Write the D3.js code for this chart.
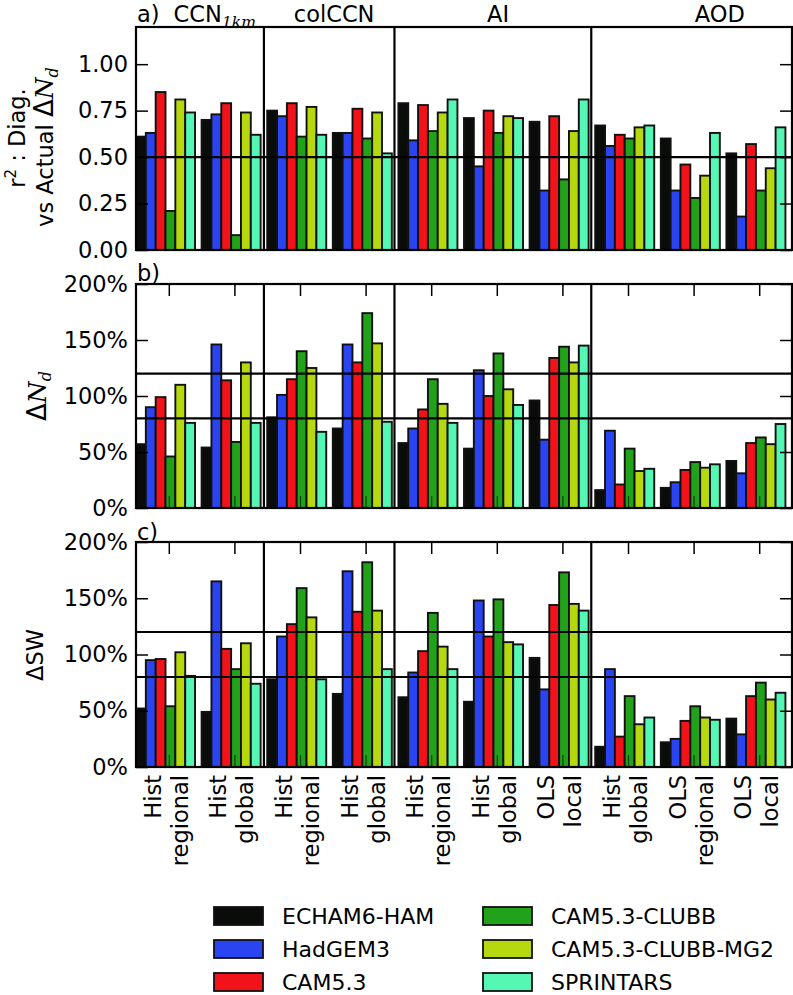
<!DOCTYPE html>
<html><head><meta charset="utf-8">
<script src="https://cdn.jsdelivr.net/npm/d3@7"></script>
<style>body{margin:0;background:#fff} text{font-family:'DejaVu Sans',sans-serif;fill:#000}</style>
</head><body><svg id="c" width="793" height="995"></svg>
<script>
const models = ["ECHAM6-HAM","HadGEM3","CAM5.3","CAM5.3-CLUBB","CAM5.3-CLUBB-MG2","SPRINTARS"];
const colors = ["#0a0c0a","#2b44f2","#f2121a","#22a11a","#b6d80e","#55f7b4"];
const groupLabels = [["Hist","regional"],["Hist","global"],["Hist","regional"],["Hist","global"],["Hist","regional"],["Hist","global"],["OLS","local"],["Hist","global"],["OLS","regional"],["OLS","local"]];
const metricTitles = ["CCN","colCCN","AI","AOD"];
const metricCenters = [1.2, 3.02, 5.52, 8.9];
const separators = [1.95, 3.94, 6.94];

// rows = models, columns = groups
const r2 = [
  [0.61,0.70,0.75,0.63,0.79,0.71,0.69,0.67,0.60,0.52],
  [0.63,0.73,0.72,0.63,0.59,0.45,0.32,0.56,0.32,0.18],
  [0.85,0.79,0.79,0.76,0.78,0.75,0.72,0.62,0.46,0.57],
  [0.21,0.08,0.61,0.60,0.64,0.63,0.38,0.60,0.28,0.32],
  [0.81,0.74,0.77,0.74,0.74,0.72,0.64,0.66,0.40,0.44],
  [0.74,0.62,0.62,0.52,0.81,0.71,0.81,0.67,0.63,0.66]
];
const dNd = [
  [57,54,81,71,58,53,96,16,18,42],
  [90,146,101,146,71,123,61,69,23,31],
  [99,114,115,130,88,100,134,21,34,58],
  [46,59,140,174,115,138,144,53,41,63],
  [110,130,125,147,93,106,130,33,36,57],
  [76,76,68,77,76,92,145,35,39,75]
];
const dSW = [
  [52,49,78,65,62,58,97,18,22,43],
  [95,165,116,174,84,148,69,87,25,29],
  [96,105,127,138,103,116,144,27,41,63],
  [54,87,159,182,137,149,173,63,54,75],
  [102,110,133,139,107,111,145,38,44,60],
  [81,74,78,87,87,109,139,44,42,66]
];
const r2Ticks = [0,0.25,0.5,0.75,1.0];
const pctTicks = [0,50,100,150,200];
const r2Ref = [0.5];
const pctRef = [80,120];

const svg = d3.select("#c");
const FS = 22.5;
const x = d3.scaleLinear().domain([0,10]).range([136,792]);
const bw = x(0.15)-x(0);
const groupIdx = d3.range(10);

const panels = [
  {data:r2, top:27, bottom:250, domain:[0,1.2], ticks:r2Ticks, fmt:d3.format(".2f"), refs:r2Ref, xticks:false, tag:"a)", tagY:22},
  {data:dNd, top:284, bottom:508, domain:[0,200], ticks:pctTicks, fmt:d=>d+"%", refs:pctRef, xticks:true, tag:"b)", tagY:281},
  {data:dSW, top:542, bottom:767, domain:[0,200], ticks:pctTicks, fmt:d=>d+"%", refs:pctRef, xticks:true, tag:"c)", tagY:540}
];

panels.forEach((p,pi)=>{
  const y = d3.scaleLinear().domain(p.domain).range([p.bottom,p.top]);
  const g = svg.append("g");
  p.data.forEach((row,j)=>{
    g.selectAll(null).data(row).join("rect")
      .attr("x",(d,i)=>x(i+j*0.15)).attr("width",bw)
      .attr("y",d=>y(d)).attr("height",d=>y(0)-y(d))
      .attr("fill",colors[j]).attr("stroke","#111").attr("stroke-width",1.9);
  });
  g.selectAll(null).data(p.refs).join("line")
    .attr("x1",x(0)).attr("x2",x(10)).attr("y1",d=>y(d)).attr("y2",d=>y(d))
    .attr("stroke","#000").attr("stroke-width",2.2);
  g.selectAll(null).data(separators).join("line")
    .attr("x1",d=>x(d)).attr("x2",d=>x(d)).attr("y1",p.top).attr("y2",p.bottom)
    .attr("stroke","#000").attr("stroke-width",2.2);
  const ax = g.append("g").attr("transform",`translate(${x(0)},0)`)
    .call(d3.axisLeft(y).tickValues(p.ticks).tickFormat(p.fmt).tickSize(-12).tickPadding(8));
  ax.select(".domain").remove();
  ax.selectAll("line").attr("stroke","#000").attr("stroke-width",1.5);
  ax.selectAll("text").attr("font-size",FS).attr("font-family","'DejaVu Sans',sans-serif").attr("fill","#000");
  const axr = g.append("g").attr("transform",`translate(${x(10)},0)`)
    .call(d3.axisRight(y).tickValues(p.ticks).tickFormat("").tickSize(-12));
  axr.select(".domain").remove();
  axr.selectAll("line").attr("stroke","#000").attr("stroke-width",1.5);
  if(p.xticks){
    const tv = groupIdx.map(i=>i+0.5);
    const at = g.append("g").attr("transform",`translate(0,${p.top})`)
      .call(d3.axisTop(x).tickValues(tv).tickFormat("").tickSize(-12));
    at.select(".domain").remove();
    at.selectAll("line").attr("stroke","#000").attr("stroke-width",1.5);
    const ab = g.append("g").attr("transform",`translate(0,${p.bottom})`)
      .call(d3.axisBottom(x).tickValues(tv).tickFormat("").tickSize(-12));
    ab.select(".domain").remove();
    ab.selectAll("line").attr("stroke","#000").attr("stroke-width",1.2).attr("opacity",0.6);
  }
  g.append("rect").attr("x",x(0)).attr("y",p.top).attr("width",x(10)-x(0)).attr("height",p.bottom-p.top)
    .attr("fill","none").attr("stroke","#000").attr("stroke-width",2.2);
  svg.append("text").attr("x",137).attr("y",p.tagY).attr("font-size",FS).text(p.tag);
});

metricTitles.forEach((t,k)=>{
  const tx = svg.append("text").attr("x",x(metricCenters[k])).attr("y",22)
    .attr("text-anchor","middle").attr("font-size",FS);
  if(t==="CCN"){
    tx.append("tspan").text("CCN");
    tx.append("tspan").attr("dy",5).attr("font-family","'DejaVu Serif',serif").attr("font-style","italic").attr("font-size",15.5).text("1km");
  } else tx.text(t);
});

groupLabels.forEach((lab,i)=>{
  const t = svg.append("text").attr("transform",`translate(${x(i+0.5)},775) rotate(-90)`)
    .attr("text-anchor","end").attr("font-size",FS);
  t.append("tspan").attr("x",0).attr("y",-8).text(lab[0]);
  t.append("tspan").attr("x",0).attr("y",19).text(lab[1]);
});

const ya1 = svg.append("text").attr("transform","translate(25,138) rotate(-90)").attr("text-anchor","middle").attr("font-size",FS);
ya1.append("tspan").text("r");
ya1.append("tspan").attr("dy",-9).attr("font-size",15).text("2");
ya1.append("tspan").attr("dy",9).text(" : Diag.");
const ya2 = svg.append("text").attr("transform","translate(53,147) rotate(-90)").attr("text-anchor","middle").attr("font-size",FS);
ya2.append("tspan").text("vs Actual ");
ya2.append("tspan").attr("font-size",26).text("Δ");
ya2.append("tspan").attr("font-family","'DejaVu Serif',serif").attr("font-style","italic").attr("font-size",25).text("N");
ya2.append("tspan").attr("dy",5).attr("font-family","'DejaVu Serif',serif").attr("font-style","italic").attr("font-size",16).text("d");

const yb = svg.append("text").attr("transform","translate(46,396) rotate(-90)").attr("text-anchor","middle").attr("font-size",FS);
yb.append("tspan").attr("font-size",26).text("Δ");
yb.append("tspan").attr("font-family","'DejaVu Serif',serif").attr("font-style","italic").attr("font-size",25).text("N");
yb.append("tspan").attr("dy",5).attr("font-family","'DejaVu Serif',serif").attr("font-style","italic").attr("font-size",16).text("d");

svg.append("text").attr("transform","translate(43,655) rotate(-90)").attr("text-anchor","middle").attr("font-size",FS).text("ΔSW");

const legX = [214, 483];
const legY = [907, 940, 973];
models.forEach((m,j)=>{
  const col = Math.floor(j/3), row = j%3;
  svg.append("rect").attr("x",legX[col]).attr("y",legY[row]).attr("width",49).attr("height",18)
    .attr("fill",colors[j]).attr("stroke","#111").attr("stroke-width",1.8);
  svg.append("text").attr("x",legX[col]+68).attr("y",legY[row]+16.5).attr("font-size",22).text(m);
});
</script></body></html>
